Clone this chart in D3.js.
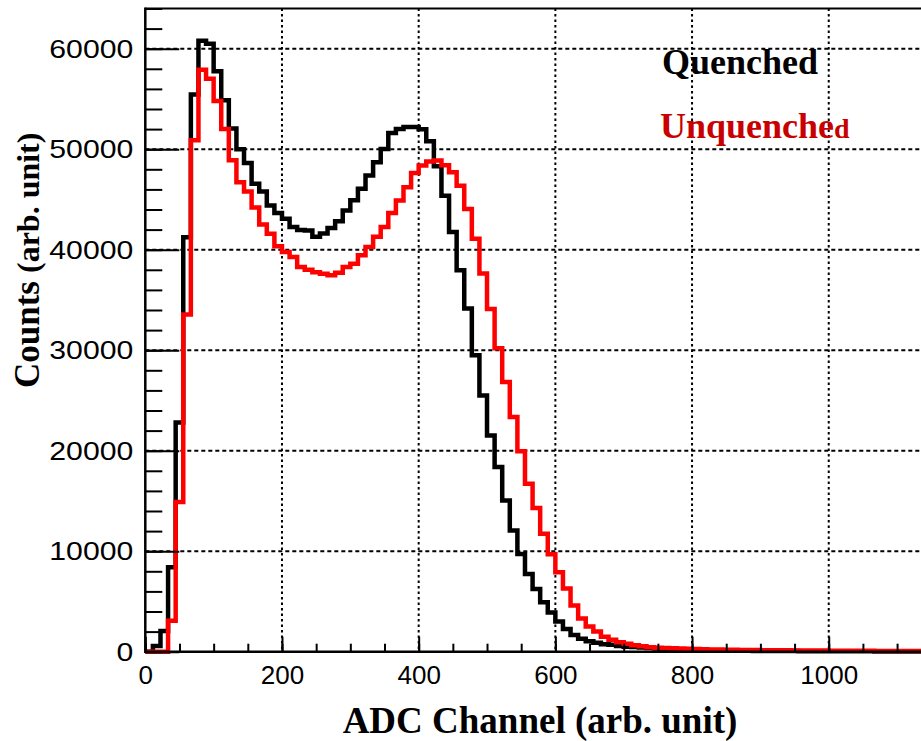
<!DOCTYPE html>
<html><head><meta charset="utf-8">
<script src="https://cdn.jsdelivr.net/npm/d3@7"></script>
<style>html,body{margin:0;padding:0;background:#fff;}svg{display:block;}</style>
</head><body>
<svg id="chart" width="921" height="741"></svg>
<script>
// ---- data ----
const binWidth = 400 / 36;            // ADC channels per histogram bin
const seriesNames = ["Quenched", "Unquenched"];
const quenched = [
  0, 570, 2070, 8400, 22800, 41250, 55450, 60800, 60500, 57750,
  54870, 52060, 50000, 48630, 46550, 45800, 44400, 43650, 43080, 42260,
  41960, 41900, 41300, 41620, 42170, 42830, 43900, 44930, 46060, 47380,
  48700, 50030, 51600, 52020, 52210, 52220, 51980, 50800, 48300, 45380,
  41750, 37950, 34160, 29490, 25500, 21520, 18370, 15050, 12060, 9730,
  7740, 6250, 4920, 3900, 3000, 2250, 1650, 1300, 1050, 900,
  750, 680, 560, 500, 470, 430, 360, 330, 300, 240,
  200, 180, 160, 140, 130, 120, 110, 100, 90, 85,
  80, 75, 70, 65, 60, 58, 55, 52, 50, 48,
  45, 42, 40, 38, 36, 34, 32, 30, 28, 26,
  25, 24, 22
];
const unquenched = [
  0, 0, 0, 3070, 14900, 33540, 50900, 57900, 57000, 54800,
  52000, 48900, 46700, 45800, 44200, 42500, 41590, 40350, 39770, 39270,
  38280, 38000, 37750, 37600, 37460, 37700, 38280, 38610, 39450, 40260,
  41300, 42250, 43660, 44900, 46220, 47630, 48380, 48780, 48870, 48400,
  47700, 46370, 44060, 41090, 37620, 34100, 30200, 26830, 23350, 19950,
  16710, 14300, 11730, 9700, 7900, 6300, 4600, 3300, 2500, 2000,
  1500, 1200, 950, 800, 650, 550, 450, 400, 380, 340,
  320, 300, 260, 240, 230, 220, 200, 190, 180, 170,
  160, 150, 145, 140, 135, 130, 125, 120, 115, 110,
  105, 100, 95, 90, 88, 85, 82, 80, 78, 75,
  72, 70, 68
];
const xTicks = [0, 200, 400, 600, 800, 1000];
const yTicks = [0, 10000, 20000, 30000, 40000, 50000, 60000];
const xTitle = "ADC Channel (arb. unit)";
const yTitleMain = "Counts";
const yTitleUnit = "(arb. unit)";

// ---- layout ----
const svg = d3.select("#chart");
const L = 145.3, R = 921, T = 8.5, B = 651.7;
const x = d3.scaleLinear().domain([0, 1135]).range([L, R]);
const y = d3.scaleLinear().domain([0, 64000]).range([B, T]);

svg.append("rect").attr("width", 921).attr("height", 741).attr("fill", "#fff");

// grid
const grid = svg.append("g");
grid.selectAll("line.gx").data(xTicks.filter(d => d > 0)).join("line")
  .attr("x1", d => x(d)).attr("x2", d => x(d)).attr("y1", T).attr("y2", B)
  .attr("stroke", "#000").attr("stroke-width", 2).attr("stroke-dasharray", "2.5,3");
grid.selectAll("line.gy").data(yTicks.filter(d => d > 0)).join("line")
  .attr("x1", L).attr("x2", R).attr("y1", d => y(d)).attr("y2", d => y(d))
  .attr("stroke", "#000").attr("stroke-width", 2).attr("stroke-dasharray", "4,3");

// histograms
svg.append("defs").append("clipPath").attr("id", "plotclip")
  .append("rect").attr("x", L).attr("y", 0).attr("width", R - L).attr("height", B + 6);

function stepPoints(vals) {
  const pts = vals.map((v, i) => [i * binWidth, v]);
  pts.push([vals.length * binWidth, vals[vals.length - 1]]);
  return pts;
}
const line = d3.line().x(d => x(d[0])).y(d => y(d[1])).curve(d3.curveStepAfter);
const hg = svg.append("g").attr("clip-path", "url(#plotclip)");
hg.append("path").attr("d", line(stepPoints(quenched)))
  .attr("fill", "none").attr("stroke", "#000").attr("stroke-width", 4.5).attr("stroke-linejoin", "miter");
hg.append("path").attr("d", line(stepPoints(unquenched)))
  .attr("fill", "none").attr("stroke", "#ff0000").attr("stroke-width", 4.5).attr("stroke-linejoin", "miter");

// axes (ticks pointing inward)
const tickFont = "'Liberation Sans', Arial, Helvetica, sans-serif";
const yAxisMinor = svg.append("g").attr("transform", `translate(${L},0)`)
  .call(d3.axisLeft(y).tickValues(d3.range(0, 64001, 2000)).tickSize(-17).tickFormat(""));
const yAxis = svg.append("g").attr("transform", `translate(${L},0)`)
  .call(d3.axisLeft(y).tickValues(yTicks).tickSize(-34).tickPadding(12).tickFormat(d3.format("d")));
const xAxisMinor = svg.append("g").attr("transform", `translate(0,${B})`)
  .call(d3.axisBottom(x).tickValues(d3.range(0, 1135, 50)).tickSize(-8).tickFormat(""));
const xAxis = svg.append("g").attr("transform", `translate(0,${B})`)
  .call(d3.axisBottom(x).tickValues(xTicks).tickSize(-15).tickPadding(14).tickFormat(d3.format("d")));

[yAxisMinor, yAxis, xAxisMinor, xAxis].forEach(g => {
  g.select(".domain").remove();
  g.selectAll(".tick line").attr("stroke", "#000").attr("stroke-width", 2);
});
yAxis.selectAll(".tick text").attr("font-family", tickFont).attr("font-size", 26).attr("fill", "#000")
  .attr("textLength", d => String(d).length * 16.8).attr("lengthAdjust", "spacingAndGlyphs");
xAxis.selectAll(".tick text").attr("font-family", tickFont).attr("font-size", 26).attr("fill", "#000");

// frame lines
svg.append("line").attr("x1", L).attr("x2", L).attr("y1", T - 1).attr("y2", B + 1.2)
  .attr("stroke", "#000").attr("stroke-width", 2.5);
svg.append("line").attr("x1", L).attr("x2", R).attr("y1", B).attr("y2", B)
  .attr("stroke", "#000").attr("stroke-width", 2.5);
svg.append("line").attr("x1", L).attr("x2", R).attr("y1", T).attr("y2", T)
  .attr("stroke", "#000").attr("stroke-width", 2);

// titles
const serif = "'Liberation Serif', 'Times New Roman', Times, serif";
svg.append("text").attr("x", 540).attr("y", 733).attr("text-anchor", "middle")
  .attr("font-family", serif).attr("font-weight", "bold").attr("font-size", 37).attr("fill", "#000")
  .text(xTitle);
const yt = svg.append("text").attr("transform", "translate(39,388) rotate(-90)")
  .attr("font-family", serif).attr("font-weight", "bold").attr("fill", "#000");
yt.append("tspan").attr("font-size", 35).text(yTitleMain);
yt.append("tspan").attr("font-size", 32).text(" " + yTitleUnit);

// legend
svg.append("text").attr("x", 662).attr("y", 74)
  .attr("font-family", serif).attr("font-weight", "bold").attr("font-size", 36).attr("fill", "#000")
  .text(seriesNames[0]);
const lg2 = svg.append("text").attr("x", 660).attr("y", 138)
  .attr("font-family", serif).attr("font-weight", "bold").attr("fill", "#c80000");
lg2.append("tspan").attr("font-size", 36).text(seriesNames[1].slice(0, -1));
lg2.append("tspan").attr("font-size", 28).text(seriesNames[1].slice(-1));
</script>
</body></html>
